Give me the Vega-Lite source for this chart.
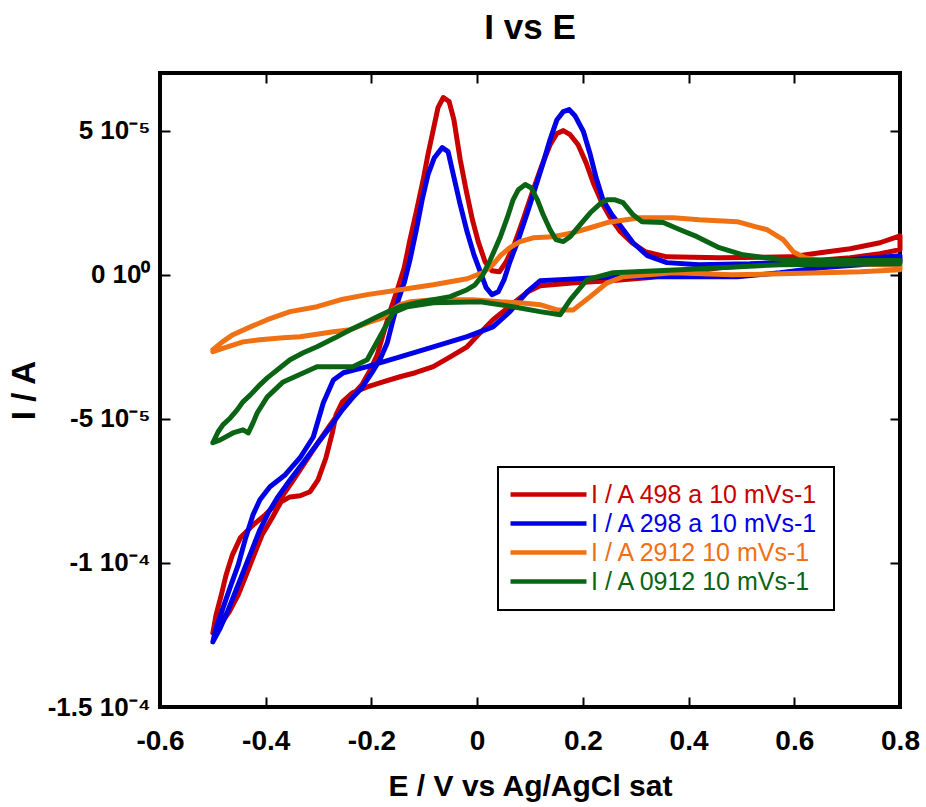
{
  "$schema": "https://vega.github.io/schema/vega-lite/v6.json",
  "width": 740,
  "height": 634,
  "autosize": {"type": "none"},
  "padding": {"left": 160, "top": 73, "right": 26, "bottom": 100},
  "background": "white",
  "title": {"text": "I vs E", "font": "Liberation Sans", "fontSize": 35, "fontWeight": "bold", "color": "black", "anchor": "middle", "offset": 26},
  "config": {"view": {"stroke": "black", "strokeWidth": 4}},
  "data": {"values": [
{"s":"I / A 498 a 10 mVs-1","o":1,"E":-0.5,"I":-12.43e-5},
{"s":"I / A 498 a 10 mVs-1","o":2,"E":-0.494,"I":-11.81e-5},
{"s":"I / A 498 a 10 mVs-1","o":3,"E":-0.484,"I":-11.11e-5},
{"s":"I / A 498 a 10 mVs-1","o":4,"E":-0.475,"I":-10.42e-5},
{"s":"I / A 498 a 10 mVs-1","o":5,"E":-0.463,"I":-9.72e-5},
{"s":"I / A 498 a 10 mVs-1","o":6,"E":-0.448,"I":-9.13e-5},
{"s":"I / A 498 a 10 mVs-1","o":7,"E":-0.426,"I":-8.72e-5},
{"s":"I / A 498 a 10 mVs-1","o":8,"E":-0.401,"I":-8.33e-5},
{"s":"I / A 498 a 10 mVs-1","o":9,"E":-0.376,"I":-7.88e-5},
{"s":"I / A 498 a 10 mVs-1","o":10,"E":-0.350,"I":-7.19e-5},
{"s":"I / A 498 a 10 mVs-1","o":11,"E":-0.325,"I":-6.49e-5},
{"s":"I / A 498 a 10 mVs-1","o":12,"E":-0.301,"I":-5.83e-5},
{"s":"I / A 498 a 10 mVs-1","o":13,"E":-0.278,"I":-5.21e-5},
{"s":"I / A 498 a 10 mVs-1","o":14,"E":-0.255,"I":-4.62e-5},
{"s":"I / A 498 a 10 mVs-1","o":15,"E":-0.236,"I":-4.17e-5},
{"s":"I / A 498 a 10 mVs-1","o":16,"E":-0.218,"I":-3.82e-5},
{"s":"I / A 498 a 10 mVs-1","o":17,"E":-0.202,"I":-3.30e-5},
{"s":"I / A 498 a 10 mVs-1","o":18,"E":-0.189,"I":-2.78e-5},
{"s":"I / A 498 a 10 mVs-1","o":19,"E":-0.178,"I":-2.08e-5},
{"s":"I / A 498 a 10 mVs-1","o":20,"E":-0.165,"I":-1.28e-5},
{"s":"I / A 498 a 10 mVs-1","o":21,"E":-0.151,"I":-0.52e-5},
{"s":"I / A 498 a 10 mVs-1","o":22,"E":-0.138,"I":0.24e-5},
{"s":"I / A 498 a 10 mVs-1","o":23,"E":-0.127,"I":1.22e-5},
{"s":"I / A 498 a 10 mVs-1","o":24,"E":-0.115,"I":2.19e-5},
{"s":"I / A 498 a 10 mVs-1","o":25,"E":-0.102,"I":3.30e-5},
{"s":"I / A 498 a 10 mVs-1","o":26,"E":-0.093,"I":4.17e-5},
{"s":"I / A 498 a 10 mVs-1","o":27,"E":-0.083,"I":5.03e-5},
{"s":"I / A 498 a 10 mVs-1","o":28,"E":-0.074,"I":5.80e-5},
{"s":"I / A 498 a 10 mVs-1","o":29,"E":-0.064,"I":6.15e-5},
{"s":"I / A 498 a 10 mVs-1","o":30,"E":-0.053,"I":6.01e-5},
{"s":"I / A 498 a 10 mVs-1","o":31,"E":-0.044,"I":5.38e-5},
{"s":"I / A 498 a 10 mVs-1","o":32,"E":-0.032,"I":3.99e-5},
{"s":"I / A 498 a 10 mVs-1","o":33,"E":-0.021,"I":2.95e-5},
{"s":"I / A 498 a 10 mVs-1","o":34,"E":-0.009,"I":1.91e-5},
{"s":"I / A 498 a 10 mVs-1","o":35,"E":0.002,"I":1.15e-5},
{"s":"I / A 498 a 10 mVs-1","o":36,"E":0.015,"I":0.45e-5},
{"s":"I / A 498 a 10 mVs-1","o":37,"E":0.028,"I":0.14e-5},
{"s":"I / A 498 a 10 mVs-1","o":38,"E":0.042,"I":0.10e-5},
{"s":"I / A 498 a 10 mVs-1","o":39,"E":0.055,"I":0.45e-5},
{"s":"I / A 498 a 10 mVs-1","o":40,"E":0.070,"I":1.04e-5},
{"s":"I / A 498 a 10 mVs-1","o":41,"E":0.087,"I":1.91e-5},
{"s":"I / A 498 a 10 mVs-1","o":42,"E":0.106,"I":2.95e-5},
{"s":"I / A 498 a 10 mVs-1","o":43,"E":0.123,"I":3.82e-5},
{"s":"I / A 498 a 10 mVs-1","o":44,"E":0.138,"I":4.51e-5},
{"s":"I / A 498 a 10 mVs-1","o":45,"E":0.151,"I":4.90e-5},
{"s":"I / A 498 a 10 mVs-1","o":46,"E":0.163,"I":5.00e-5},
{"s":"I / A 498 a 10 mVs-1","o":47,"E":0.176,"I":4.86e-5},
{"s":"I / A 498 a 10 mVs-1","o":48,"E":0.191,"I":4.51e-5},
{"s":"I / A 498 a 10 mVs-1","o":49,"E":0.206,"I":3.89e-5},
{"s":"I / A 498 a 10 mVs-1","o":50,"E":0.221,"I":3.13e-5},
{"s":"I / A 498 a 10 mVs-1","o":51,"E":0.236,"I":2.50e-5},
{"s":"I / A 498 a 10 mVs-1","o":52,"E":0.252,"I":1.98e-5},
{"s":"I / A 498 a 10 mVs-1","o":53,"E":0.271,"I":1.49e-5},
{"s":"I / A 498 a 10 mVs-1","o":54,"E":0.293,"I":1.11e-5},
{"s":"I / A 498 a 10 mVs-1","o":55,"E":0.318,"I":0.80e-5},
{"s":"I / A 498 a 10 mVs-1","o":56,"E":0.359,"I":0.62e-5},
{"s":"I / A 498 a 10 mVs-1","o":57,"E":0.458,"I":0.59e-5},
{"s":"I / A 498 a 10 mVs-1","o":58,"E":0.592,"I":0.62e-5},
{"s":"I / A 498 a 10 mVs-1","o":59,"E":0.649,"I":0.76e-5},
{"s":"I / A 498 a 10 mVs-1","o":60,"E":0.706,"I":0.90e-5},
{"s":"I / A 498 a 10 mVs-1","o":61,"E":0.762,"I":1.11e-5},
{"s":"I / A 498 a 10 mVs-1","o":62,"E":0.800,"I":1.35e-5},
{"s":"I / A 498 a 10 mVs-1","o":63,"E":0.800,"I":0.87e-5},
{"s":"I / A 498 a 10 mVs-1","o":64,"E":0.762,"I":0.73e-5},
{"s":"I / A 498 a 10 mVs-1","o":65,"E":0.706,"I":0.59e-5},
{"s":"I / A 498 a 10 mVs-1","o":66,"E":0.611,"I":0.45e-5},
{"s":"I / A 498 a 10 mVs-1","o":67,"E":0.535,"I":0.35e-5},
{"s":"I / A 498 a 10 mVs-1","o":68,"E":0.458,"I":0.24e-5},
{"s":"I / A 498 a 10 mVs-1","o":69,"E":0.403,"I":0.10e-5},
{"s":"I / A 498 a 10 mVs-1","o":70,"E":0.327,"I":-0.10e-5},
{"s":"I / A 498 a 10 mVs-1","o":71,"E":0.252,"I":-0.21e-5},
{"s":"I / A 498 a 10 mVs-1","o":72,"E":0.185,"I":-0.28e-5},
{"s":"I / A 498 a 10 mVs-1","o":73,"E":0.119,"I":-0.38e-5},
{"s":"I / A 498 a 10 mVs-1","o":74,"E":0.096,"I":-0.59e-5},
{"s":"I / A 498 a 10 mVs-1","o":75,"E":0.072,"I":-0.94e-5},
{"s":"I / A 498 a 10 mVs-1","o":76,"E":0.053,"I":-1.22e-5},
{"s":"I / A 498 a 10 mVs-1","o":77,"E":0.030,"I":-1.56e-5},
{"s":"I / A 498 a 10 mVs-1","o":78,"E":0.006,"I":-2.01e-5},
{"s":"I / A 498 a 10 mVs-1","o":79,"E":-0.019,"I":-2.50e-5},
{"s":"I / A 498 a 10 mVs-1","o":80,"E":-0.051,"I":-2.85e-5},
{"s":"I / A 498 a 10 mVs-1","o":81,"E":-0.083,"I":-3.19e-5},
{"s":"I / A 498 a 10 mVs-1","o":82,"E":-0.117,"I":-3.40e-5},
{"s":"I / A 498 a 10 mVs-1","o":83,"E":-0.146,"I":-3.54e-5},
{"s":"I / A 498 a 10 mVs-1","o":84,"E":-0.178,"I":-3.72e-5},
{"s":"I / A 498 a 10 mVs-1","o":85,"E":-0.208,"I":-3.89e-5},
{"s":"I / A 498 a 10 mVs-1","o":86,"E":-0.236,"I":-4.10e-5},
{"s":"I / A 498 a 10 mVs-1","o":87,"E":-0.255,"I":-4.41e-5},
{"s":"I / A 498 a 10 mVs-1","o":88,"E":-0.267,"I":-4.86e-5},
{"s":"I / A 498 a 10 mVs-1","o":89,"E":-0.274,"I":-5.49e-5},
{"s":"I / A 498 a 10 mVs-1","o":90,"E":-0.286,"I":-6.35e-5},
{"s":"I / A 498 a 10 mVs-1","o":91,"E":-0.301,"I":-7.12e-5},
{"s":"I / A 498 a 10 mVs-1","o":92,"E":-0.316,"I":-7.53e-5},
{"s":"I / A 498 a 10 mVs-1","o":93,"E":-0.335,"I":-7.67e-5},
{"s":"I / A 498 a 10 mVs-1","o":94,"E":-0.354,"I":-7.71e-5},
{"s":"I / A 498 a 10 mVs-1","o":95,"E":-0.371,"I":-7.88e-5},
{"s":"I / A 498 a 10 mVs-1","o":96,"E":-0.388,"I":-8.44e-5},
{"s":"I / A 498 a 10 mVs-1","o":97,"E":-0.407,"I":-9.03e-5},
{"s":"I / A 498 a 10 mVs-1","o":98,"E":-0.422,"I":-9.72e-5},
{"s":"I / A 498 a 10 mVs-1","o":99,"E":-0.437,"I":-10.42e-5},
{"s":"I / A 498 a 10 mVs-1","o":100,"E":-0.452,"I":-11.11e-5},
{"s":"I / A 498 a 10 mVs-1","o":101,"E":-0.469,"I":-11.70e-5},
{"s":"I / A 498 a 10 mVs-1","o":102,"E":-0.486,"I":-12.15e-5},
{"s":"I / A 498 a 10 mVs-1","o":103,"E":-0.5,"I":-12.43e-5},
{"s":"I / A 298 a 10 mVs-1","o":1,"E":-0.5,"I":-12.74e-5},
{"s":"I / A 298 a 10 mVs-1","o":2,"E":-0.486,"I":-12.26e-5},
{"s":"I / A 298 a 10 mVs-1","o":3,"E":-0.471,"I":-11.63e-5},
{"s":"I / A 298 a 10 mVs-1","o":4,"E":-0.456,"I":-10.94e-5},
{"s":"I / A 298 a 10 mVs-1","o":5,"E":-0.441,"I":-10.24e-5},
{"s":"I / A 298 a 10 mVs-1","o":6,"E":-0.426,"I":-9.55e-5},
{"s":"I / A 298 a 10 mVs-1","o":7,"E":-0.411,"I":-8.85e-5},
{"s":"I / A 298 a 10 mVs-1","o":8,"E":-0.395,"I":-8.26e-5},
{"s":"I / A 298 a 10 mVs-1","o":9,"E":-0.378,"I":-7.74e-5},
{"s":"I / A 298 a 10 mVs-1","o":10,"E":-0.354,"I":-7.12e-5},
{"s":"I / A 298 a 10 mVs-1","o":11,"E":-0.325,"I":-6.42e-5},
{"s":"I / A 298 a 10 mVs-1","o":12,"E":-0.301,"I":-5.83e-5},
{"s":"I / A 298 a 10 mVs-1","o":13,"E":-0.278,"I":-5.28e-5},
{"s":"I / A 298 a 10 mVs-1","o":14,"E":-0.255,"I":-4.69e-5},
{"s":"I / A 298 a 10 mVs-1","o":15,"E":-0.236,"I":-4.27e-5},
{"s":"I / A 298 a 10 mVs-1","o":16,"E":-0.218,"I":-3.92e-5},
{"s":"I / A 298 a 10 mVs-1","o":17,"E":-0.199,"I":-3.40e-5},
{"s":"I / A 298 a 10 mVs-1","o":18,"E":-0.184,"I":-2.95e-5},
{"s":"I / A 298 a 10 mVs-1","o":19,"E":-0.170,"I":-2.36e-5},
{"s":"I / A 298 a 10 mVs-1","o":20,"E":-0.159,"I":-1.56e-5},
{"s":"I / A 298 a 10 mVs-1","o":21,"E":-0.149,"I":-0.87e-5},
{"s":"I / A 298 a 10 mVs-1","o":22,"E":-0.138,"I":-0.28e-5},
{"s":"I / A 298 a 10 mVs-1","o":23,"E":-0.127,"I":0.52e-5},
{"s":"I / A 298 a 10 mVs-1","o":24,"E":-0.115,"I":1.56e-5},
{"s":"I / A 298 a 10 mVs-1","o":25,"E":-0.104,"I":2.60e-5},
{"s":"I / A 298 a 10 mVs-1","o":26,"E":-0.093,"I":3.47e-5},
{"s":"I / A 298 a 10 mVs-1","o":27,"E":-0.081,"I":4.06e-5},
{"s":"I / A 298 a 10 mVs-1","o":28,"E":-0.066,"I":4.41e-5},
{"s":"I / A 298 a 10 mVs-1","o":29,"E":-0.055,"I":4.27e-5},
{"s":"I / A 298 a 10 mVs-1","o":30,"E":-0.045,"I":3.47e-5},
{"s":"I / A 298 a 10 mVs-1","o":31,"E":-0.032,"I":2.43e-5},
{"s":"I / A 298 a 10 mVs-1","o":32,"E":-0.019,"I":1.49e-5},
{"s":"I / A 298 a 10 mVs-1","o":33,"E":-0.006,"I":0.69e-5},
{"s":"I / A 298 a 10 mVs-1","o":34,"E":0.006,"I":0.10e-5},
{"s":"I / A 298 a 10 mVs-1","o":35,"E":0.017,"I":-0.45e-5},
{"s":"I / A 298 a 10 mVs-1","o":36,"E":0.028,"I":-0.69e-5},
{"s":"I / A 298 a 10 mVs-1","o":37,"E":0.040,"I":-0.59e-5},
{"s":"I / A 298 a 10 mVs-1","o":38,"E":0.051,"I":-0.17e-5},
{"s":"I / A 298 a 10 mVs-1","o":39,"E":0.062,"I":0.45e-5},
{"s":"I / A 298 a 10 mVs-1","o":40,"E":0.078,"I":1.22e-5},
{"s":"I / A 298 a 10 mVs-1","o":41,"E":0.095,"I":2.15e-5},
{"s":"I / A 298 a 10 mVs-1","o":42,"E":0.110,"I":3.02e-5},
{"s":"I / A 298 a 10 mVs-1","o":43,"E":0.125,"I":3.89e-5},
{"s":"I / A 298 a 10 mVs-1","o":44,"E":0.138,"I":4.69e-5},
{"s":"I / A 298 a 10 mVs-1","o":45,"E":0.151,"I":5.38e-5},
{"s":"I / A 298 a 10 mVs-1","o":46,"E":0.163,"I":5.66e-5},
{"s":"I / A 298 a 10 mVs-1","o":47,"E":0.174,"I":5.73e-5},
{"s":"I / A 298 a 10 mVs-1","o":48,"E":0.185,"I":5.52e-5},
{"s":"I / A 298 a 10 mVs-1","o":49,"E":0.201,"I":4.97e-5},
{"s":"I / A 298 a 10 mVs-1","o":50,"E":0.214,"I":4.17e-5},
{"s":"I / A 298 a 10 mVs-1","o":51,"E":0.225,"I":3.37e-5},
{"s":"I / A 298 a 10 mVs-1","o":52,"E":0.238,"I":2.60e-5},
{"s":"I / A 298 a 10 mVs-1","o":53,"E":0.255,"I":2.08e-5},
{"s":"I / A 298 a 10 mVs-1","o":54,"E":0.271,"I":1.70e-5},
{"s":"I / A 298 a 10 mVs-1","o":55,"E":0.295,"I":1.11e-5},
{"s":"I / A 298 a 10 mVs-1","o":56,"E":0.322,"I":0.66e-5},
{"s":"I / A 298 a 10 mVs-1","o":57,"E":0.359,"I":0.42e-5},
{"s":"I / A 298 a 10 mVs-1","o":58,"E":0.420,"I":0.35e-5},
{"s":"I / A 298 a 10 mVs-1","o":59,"E":0.516,"I":0.38e-5},
{"s":"I / A 298 a 10 mVs-1","o":60,"E":0.611,"I":0.45e-5},
{"s":"I / A 298 a 10 mVs-1","o":61,"E":0.706,"I":0.52e-5},
{"s":"I / A 298 a 10 mVs-1","o":62,"E":0.800,"I":0.66e-5},
{"s":"I / A 298 a 10 mVs-1","o":63,"E":0.800,"I":0.45e-5},
{"s":"I / A 298 a 10 mVs-1","o":64,"E":0.725,"I":0.35e-5},
{"s":"I / A 298 a 10 mVs-1","o":65,"E":0.649,"I":0.24e-5},
{"s":"I / A 298 a 10 mVs-1","o":66,"E":0.573,"I":0.07e-5},
{"s":"I / A 298 a 10 mVs-1","o":67,"E":0.492,"I":-0.07e-5},
{"s":"I / A 298 a 10 mVs-1","o":68,"E":0.420,"I":-0.07e-5},
{"s":"I / A 298 a 10 mVs-1","o":69,"E":0.327,"I":-0.07e-5},
{"s":"I / A 298 a 10 mVs-1","o":70,"E":0.233,"I":-0.10e-5},
{"s":"I / A 298 a 10 mVs-1","o":71,"E":0.157,"I":-0.17e-5},
{"s":"I / A 298 a 10 mVs-1","o":72,"E":0.119,"I":-0.21e-5},
{"s":"I / A 298 a 10 mVs-1","o":73,"E":0.095,"I":-0.59e-5},
{"s":"I / A 298 a 10 mVs-1","o":74,"E":0.062,"I":-1.28e-5},
{"s":"I / A 298 a 10 mVs-1","o":75,"E":0.030,"I":-1.81e-5},
{"s":"I / A 298 a 10 mVs-1","o":76,"E":-0.019,"I":-2.15e-5},
{"s":"I / A 298 a 10 mVs-1","o":77,"E":-0.083,"I":-2.50e-5},
{"s":"I / A 298 a 10 mVs-1","o":78,"E":-0.146,"I":-2.85e-5},
{"s":"I / A 298 a 10 mVs-1","o":79,"E":-0.208,"I":-3.19e-5},
{"s":"I / A 298 a 10 mVs-1","o":80,"E":-0.253,"I":-3.40e-5},
{"s":"I / A 298 a 10 mVs-1","o":81,"E":-0.272,"I":-3.65e-5},
{"s":"I / A 298 a 10 mVs-1","o":82,"E":-0.291,"I":-4.44e-5},
{"s":"I / A 298 a 10 mVs-1","o":83,"E":-0.310,"I":-5.63e-5},
{"s":"I / A 298 a 10 mVs-1","o":84,"E":-0.335,"I":-6.35e-5},
{"s":"I / A 298 a 10 mVs-1","o":85,"E":-0.363,"I":-6.94e-5},
{"s":"I / A 298 a 10 mVs-1","o":86,"E":-0.392,"I":-7.36e-5},
{"s":"I / A 298 a 10 mVs-1","o":87,"E":-0.411,"I":-7.81e-5},
{"s":"I / A 298 a 10 mVs-1","o":88,"E":-0.424,"I":-8.33e-5},
{"s":"I / A 298 a 10 mVs-1","o":89,"E":-0.439,"I":-9.20e-5},
{"s":"I / A 298 a 10 mVs-1","o":90,"E":-0.452,"I":-10.07e-5},
{"s":"I / A 298 a 10 mVs-1","o":91,"E":-0.467,"I":-10.83e-5},
{"s":"I / A 298 a 10 mVs-1","o":92,"E":-0.482,"I":-11.63e-5},
{"s":"I / A 298 a 10 mVs-1","o":93,"E":-0.494,"I":-12.26e-5},
{"s":"I / A 298 a 10 mVs-1","o":94,"E":-0.5,"I":-12.74e-5},
{"s":"I / A 2912 10 mVs-1","o":1,"E":-0.5,"I":-2.60e-5},
{"s":"I / A 2912 10 mVs-1","o":2,"E":-0.482,"I":-2.33e-5},
{"s":"I / A 2912 10 mVs-1","o":3,"E":-0.462,"I":-2.08e-5},
{"s":"I / A 2912 10 mVs-1","o":4,"E":-0.429,"I":-1.81e-5},
{"s":"I / A 2912 10 mVs-1","o":5,"E":-0.397,"I":-1.56e-5},
{"s":"I / A 2912 10 mVs-1","o":6,"E":-0.354,"I":-1.28e-5},
{"s":"I / A 2912 10 mVs-1","o":7,"E":-0.303,"I":-1.11e-5},
{"s":"I / A 2912 10 mVs-1","o":8,"E":-0.259,"I":-0.87e-5},
{"s":"I / A 2912 10 mVs-1","o":9,"E":-0.208,"I":-0.69e-5},
{"s":"I / A 2912 10 mVs-1","o":10,"E":-0.146,"I":-0.52e-5},
{"s":"I / A 2912 10 mVs-1","o":11,"E":-0.083,"I":-0.35e-5},
{"s":"I / A 2912 10 mVs-1","o":12,"E":-0.019,"I":-0.14e-5},
{"s":"I / A 2912 10 mVs-1","o":13,"E":0.011,"I":0.07e-5},
{"s":"I / A 2912 10 mVs-1","o":14,"E":0.030,"I":0.35e-5},
{"s":"I / A 2912 10 mVs-1","o":15,"E":0.044,"I":0.66e-5},
{"s":"I / A 2912 10 mVs-1","o":16,"E":0.062,"I":0.94e-5},
{"s":"I / A 2912 10 mVs-1","o":17,"E":0.081,"I":1.15e-5},
{"s":"I / A 2912 10 mVs-1","o":18,"E":0.106,"I":1.28e-5},
{"s":"I / A 2912 10 mVs-1","o":19,"E":0.144,"I":1.32e-5},
{"s":"I / A 2912 10 mVs-1","o":20,"E":0.182,"I":1.46e-5},
{"s":"I / A 2912 10 mVs-1","o":21,"E":0.214,"I":1.63e-5},
{"s":"I / A 2912 10 mVs-1","o":22,"E":0.246,"I":1.81e-5},
{"s":"I / A 2912 10 mVs-1","o":23,"E":0.308,"I":1.98e-5},
{"s":"I / A 2912 10 mVs-1","o":24,"E":0.371,"I":1.98e-5},
{"s":"I / A 2912 10 mVs-1","o":25,"E":0.420,"I":1.91e-5},
{"s":"I / A 2912 10 mVs-1","o":26,"E":0.492,"I":1.84e-5},
{"s":"I / A 2912 10 mVs-1","o":27,"E":0.526,"I":1.67e-5},
{"s":"I / A 2912 10 mVs-1","o":28,"E":0.549,"I":1.56e-5},
{"s":"I / A 2912 10 mVs-1","o":29,"E":0.579,"I":1.22e-5},
{"s":"I / A 2912 10 mVs-1","o":30,"E":0.598,"I":0.80e-5},
{"s":"I / A 2912 10 mVs-1","o":31,"E":0.620,"I":0.59e-5},
{"s":"I / A 2912 10 mVs-1","o":32,"E":0.668,"I":0.45e-5},
{"s":"I / A 2912 10 mVs-1","o":33,"E":0.725,"I":0.38e-5},
{"s":"I / A 2912 10 mVs-1","o":34,"E":0.800,"I":0.31e-5},
{"s":"I / A 2912 10 mVs-1","o":35,"E":0.800,"I":0.17e-5},
{"s":"I / A 2912 10 mVs-1","o":36,"E":0.725,"I":0.10e-5},
{"s":"I / A 2912 10 mVs-1","o":37,"E":0.655,"I":0.07e-5},
{"s":"I / A 2912 10 mVs-1","o":38,"E":0.573,"I":0.03e-5},
{"s":"I / A 2912 10 mVs-1","o":39,"E":0.482,"I":0},
{"s":"I / A 2912 10 mVs-1","o":40,"E":0.371,"I":0.07e-5},
{"s":"I / A 2912 10 mVs-1","o":41,"E":0.276,"I":-0.07e-5},
{"s":"I / A 2912 10 mVs-1","o":42,"E":0.246,"I":-0.28e-5},
{"s":"I / A 2912 10 mVs-1","o":43,"E":0.214,"I":-0.76e-5},
{"s":"I / A 2912 10 mVs-1","o":44,"E":0.182,"I":-1.22e-5},
{"s":"I / A 2912 10 mVs-1","o":45,"E":0.151,"I":-1.22e-5},
{"s":"I / A 2912 10 mVs-1","o":46,"E":0.119,"I":-1.04e-5},
{"s":"I / A 2912 10 mVs-1","o":47,"E":0.081,"I":-0.97e-5},
{"s":"I / A 2912 10 mVs-1","o":48,"E":0.044,"I":-0.94e-5},
{"s":"I / A 2912 10 mVs-1","o":49,"E":-0.008,"I":-0.87e-5},
{"s":"I / A 2912 10 mVs-1","o":50,"E":-0.083,"I":-0.87e-5},
{"s":"I / A 2912 10 mVs-1","o":51,"E":-0.127,"I":-0.94e-5},
{"s":"I / A 2912 10 mVs-1","o":52,"E":-0.146,"I":-1.04e-5},
{"s":"I / A 2912 10 mVs-1","o":53,"E":-0.165,"I":-1.28e-5},
{"s":"I / A 2912 10 mVs-1","o":54,"E":-0.178,"I":-1.49e-5},
{"s":"I / A 2912 10 mVs-1","o":55,"E":-0.208,"I":-1.67e-5},
{"s":"I / A 2912 10 mVs-1","o":56,"E":-0.240,"I":-1.91e-5},
{"s":"I / A 2912 10 mVs-1","o":57,"E":-0.272,"I":-1.98e-5},
{"s":"I / A 2912 10 mVs-1","o":58,"E":-0.335,"I":-2.15e-5},
{"s":"I / A 2912 10 mVs-1","o":59,"E":-0.367,"I":-2.19e-5},
{"s":"I / A 2912 10 mVs-1","o":60,"E":-0.411,"I":-2.26e-5},
{"s":"I / A 2912 10 mVs-1","o":61,"E":-0.443,"I":-2.33e-5},
{"s":"I / A 2912 10 mVs-1","o":62,"E":-0.477,"I":-2.53e-5},
{"s":"I / A 2912 10 mVs-1","o":63,"E":-0.5,"I":-2.67e-5},
{"s":"I / A 0912 10 mVs-1","o":1,"E":-0.5,"I":-5.83e-5},
{"s":"I / A 0912 10 mVs-1","o":2,"E":-0.490,"I":-5.45e-5},
{"s":"I / A 0912 10 mVs-1","o":3,"E":-0.481,"I":-5.21e-5},
{"s":"I / A 0912 10 mVs-1","o":4,"E":-0.467,"I":-4.97e-5},
{"s":"I / A 0912 10 mVs-1","o":5,"E":-0.454,"I":-4.69e-5},
{"s":"I / A 0912 10 mVs-1","o":6,"E":-0.443,"I":-4.41e-5},
{"s":"I / A 0912 10 mVs-1","o":7,"E":-0.429,"I":-4.17e-5},
{"s":"I / A 0912 10 mVs-1","o":8,"E":-0.411,"I":-3.82e-5},
{"s":"I / A 0912 10 mVs-1","o":9,"E":-0.397,"I":-3.58e-5},
{"s":"I / A 0912 10 mVs-1","o":10,"E":-0.373,"I":-3.23e-5},
{"s":"I / A 0912 10 mVs-1","o":11,"E":-0.354,"I":-2.95e-5},
{"s":"I / A 0912 10 mVs-1","o":12,"E":-0.329,"I":-2.71e-5},
{"s":"I / A 0912 10 mVs-1","o":13,"E":-0.303,"I":-2.50e-5},
{"s":"I / A 0912 10 mVs-1","o":14,"E":-0.269,"I":-2.19e-5},
{"s":"I / A 0912 10 mVs-1","o":15,"E":-0.240,"I":-1.91e-5},
{"s":"I / A 0912 10 mVs-1","o":16,"E":-0.212,"I":-1.67e-5},
{"s":"I / A 0912 10 mVs-1","o":17,"E":-0.189,"I":-1.46e-5},
{"s":"I / A 0912 10 mVs-1","o":18,"E":-0.165,"I":-1.25e-5},
{"s":"I / A 0912 10 mVs-1","o":19,"E":-0.146,"I":-1.11e-5},
{"s":"I / A 0912 10 mVs-1","o":20,"E":-0.114,"I":-0.97e-5},
{"s":"I / A 0912 10 mVs-1","o":21,"E":-0.083,"I":-0.87e-5},
{"s":"I / A 0912 10 mVs-1","o":22,"E":-0.051,"I":-0.76e-5},
{"s":"I / A 0912 10 mVs-1","o":23,"E":-0.019,"I":-0.52e-5},
{"s":"I / A 0912 10 mVs-1","o":24,"E":-0.004,"I":-0.35e-5},
{"s":"I / A 0912 10 mVs-1","o":25,"E":0.011,"I":0},
{"s":"I / A 0912 10 mVs-1","o":26,"E":0.025,"I":0.52e-5},
{"s":"I / A 0912 10 mVs-1","o":27,"E":0.044,"I":1.32e-5},
{"s":"I / A 0912 10 mVs-1","o":28,"E":0.057,"I":1.98e-5},
{"s":"I / A 0912 10 mVs-1","o":29,"E":0.068,"I":2.60e-5},
{"s":"I / A 0912 10 mVs-1","o":30,"E":0.078,"I":2.95e-5},
{"s":"I / A 0912 10 mVs-1","o":31,"E":0.091,"I":3.13e-5},
{"s":"I / A 0912 10 mVs-1","o":32,"E":0.102,"I":3.02e-5},
{"s":"I / A 0912 10 mVs-1","o":33,"E":0.114,"I":2.60e-5},
{"s":"I / A 0912 10 mVs-1","o":34,"E":0.125,"I":2.08e-5},
{"s":"I / A 0912 10 mVs-1","o":35,"E":0.138,"I":1.56e-5},
{"s":"I / A 0912 10 mVs-1","o":36,"E":0.149,"I":1.22e-5},
{"s":"I / A 0912 10 mVs-1","o":37,"E":0.163,"I":1.15e-5},
{"s":"I / A 0912 10 mVs-1","o":38,"E":0.176,"I":1.32e-5},
{"s":"I / A 0912 10 mVs-1","o":39,"E":0.195,"I":1.74e-5},
{"s":"I / A 0912 10 mVs-1","o":40,"E":0.214,"I":2.15e-5},
{"s":"I / A 0912 10 mVs-1","o":41,"E":0.233,"I":2.47e-5},
{"s":"I / A 0912 10 mVs-1","o":42,"E":0.246,"I":2.60e-5},
{"s":"I / A 0912 10 mVs-1","o":43,"E":0.261,"I":2.60e-5},
{"s":"I / A 0912 10 mVs-1","o":44,"E":0.276,"I":2.50e-5},
{"s":"I / A 0912 10 mVs-1","o":45,"E":0.295,"I":2.08e-5},
{"s":"I / A 0912 10 mVs-1","o":46,"E":0.312,"I":1.84e-5},
{"s":"I / A 0912 10 mVs-1","o":47,"E":0.352,"I":1.81e-5},
{"s":"I / A 0912 10 mVs-1","o":48,"E":0.384,"I":1.56e-5},
{"s":"I / A 0912 10 mVs-1","o":49,"E":0.416,"I":1.32e-5},
{"s":"I / A 0912 10 mVs-1","o":50,"E":0.458,"I":0.94e-5},
{"s":"I / A 0912 10 mVs-1","o":51,"E":0.503,"I":0.69e-5},
{"s":"I / A 0912 10 mVs-1","o":52,"E":0.579,"I":0.52e-5},
{"s":"I / A 0912 10 mVs-1","o":53,"E":0.687,"I":0.49e-5},
{"s":"I / A 0912 10 mVs-1","o":54,"E":0.800,"I":0.49e-5},
{"s":"I / A 0912 10 mVs-1","o":55,"E":0.800,"I":0.38e-5},
{"s":"I / A 0912 10 mVs-1","o":56,"E":0.573,"I":0.35e-5},
{"s":"I / A 0912 10 mVs-1","o":57,"E":0.384,"I":0.17e-5},
{"s":"I / A 0912 10 mVs-1","o":58,"E":0.257,"I":0.07e-5},
{"s":"I / A 0912 10 mVs-1","o":59,"E":0.208,"I":-0.17e-5},
{"s":"I / A 0912 10 mVs-1","o":60,"E":0.176,"I":-0.87e-5},
{"s":"I / A 0912 10 mVs-1","o":61,"E":0.157,"I":-1.39e-5},
{"s":"I / A 0912 10 mVs-1","o":62,"E":0.119,"I":-1.28e-5},
{"s":"I / A 0912 10 mVs-1","o":63,"E":0.068,"I":-1.11e-5},
{"s":"I / A 0912 10 mVs-1","o":64,"E":0.006,"I":-0.94e-5},
{"s":"I / A 0912 10 mVs-1","o":65,"E":-0.083,"I":-0.97e-5},
{"s":"I / A 0912 10 mVs-1","o":66,"E":-0.132,"I":-1.11e-5},
{"s":"I / A 0912 10 mVs-1","o":67,"E":-0.159,"I":-1.32e-5},
{"s":"I / A 0912 10 mVs-1","o":68,"E":-0.184,"I":-2.15e-5},
{"s":"I / A 0912 10 mVs-1","o":69,"E":-0.208,"I":-2.95e-5},
{"s":"I / A 0912 10 mVs-1","o":70,"E":-0.235,"I":-3.19e-5},
{"s":"I / A 0912 10 mVs-1","o":71,"E":-0.303,"I":-3.19e-5},
{"s":"I / A 0912 10 mVs-1","o":72,"E":-0.367,"I":-3.72e-5},
{"s":"I / A 0912 10 mVs-1","o":73,"E":-0.397,"I":-4.24e-5},
{"s":"I / A 0912 10 mVs-1","o":74,"E":-0.416,"I":-4.79e-5},
{"s":"I / A 0912 10 mVs-1","o":75,"E":-0.424,"I":-5.14e-5},
{"s":"I / A 0912 10 mVs-1","o":76,"E":-0.433,"I":-5.49e-5},
{"s":"I / A 0912 10 mVs-1","o":77,"E":-0.443,"I":-5.38e-5},
{"s":"I / A 0912 10 mVs-1","o":78,"E":-0.462,"I":-5.49e-5},
{"s":"I / A 0912 10 mVs-1","o":79,"E":-0.486,"I":-5.73e-5},
{"s":"I / A 0912 10 mVs-1","o":80,"E":-0.5,"I":-5.83e-5}
  ]},
  "layer": [
    {
      "mark": {"type": "line", "strokeWidth": 5, "strokeJoin": "round", "strokeCap": "round"},
      "encoding": {
        "x": {"field": "E", "type": "quantitative",
          "scale": {"domain": [-0.6, 0.8], "nice": false, "zero": false},
          "axis": {"title": "E / V vs Ag/AgCl sat", "values": [-0.6, -0.4, -0.2, 0, 0.2, 0.4, 0.6, 0.8],
            "labelExpr": "datum.value == 0 ? '0' : (datum.value < 0 ? '-' : '') + format(abs(datum.value), '.1f')",
            "domain": false, "grid": false, "tickSize": -10, "tickWidth": 2, "tickColor": "black",
            "labelPadding": 30, "labelFont": "Liberation Sans Narrow, Liberation Sans", "labelFontSize": 28, "labelFontWeight": "bold", "labelColor": "black",
            "labelFlush": false, "labelOverlap": false,
            "titleFont": "Liberation Sans", "titleFontSize": 30, "titleFontWeight": "bold", "titleColor": "black", "titlePadding": 16}},
        "y": {"field": "I", "type": "quantitative",
          "scale": {"domain": [-0.00015, 0.00007], "nice": false, "zero": false},
          "axis": {"title": "I / A", "values": [-0.00015, -0.0001, -0.00005, 0, 0.00005],
            "labelExpr": "round(datum.value*1e5) == 5 ? '5 10⁻⁵' : round(datum.value*1e5) == 0 ? '0 10⁰' : round(datum.value*1e5) == -5 ? '-5 10⁻⁵' : round(datum.value*1e5) == -10 ? '-1 10⁻⁴' : '-1.5 10⁻⁴'",
            "domain": false, "grid": false, "tickSize": -10, "tickWidth": 2, "tickColor": "black",
            "labelPadding": 20, "labelFont": "Liberation Sans Narrow, Liberation Sans", "labelFontSize": 26, "labelFontWeight": "bold", "labelColor": "black",
            "labelFlush": false, "labelOverlap": false,
            "titleFont": "Liberation Sans", "titleFontSize": 33, "titleFontWeight": "bold", "titleColor": "black", "titlePadding": 6}},
        "color": {"field": "s", "type": "nominal",
          "scale": {"domain": ["I / A 498 a 10 mVs-1", "I / A 298 a 10 mVs-1", "I / A 2912 10 mVs-1", "I / A 0912 10 mVs-1"],
                    "range": ["#c80000", "#0000e6", "#f07014", "#0a6414"]},
          "legend": {"orient": "none", "legendX": 338, "legendY": 394, "title": null,
            "symbolType": "M-19,0H19", "symbolSize": 16, "symbolOffset": 23, "symbolStrokeWidth": 4.5,
            "labelOffset": 30, "labelFont": "Liberation Sans", "labelFontSize": 25, "labelLimit": 400,
            "rowPadding": 3, "padding": 15, "fillColor": "white", "strokeColor": "black",
            "encode": {
              "labels": {"update": {"fill": {"scale": "color", "field": "value"}}},
              "symbols": {"update": {"stroke": {"scale": "color", "field": "value"}, "fill": {"value": "transparent"}}},
              "legend": {"update": {"strokeWidth": {"value": 2}}}
            }}},
        "order": {"field": "o", "type": "quantitative"}
      }
    },
    {
      "mark": {"type": "line", "strokeOpacity": 0},
      "encoding": {
        "x": {"field": "E", "type": "quantitative",
          "axis": {"orient": "top", "title": null, "labels": false, "values": [-0.6, -0.4, -0.2, 0, 0.2, 0.4, 0.6, 0.8],
            "domain": false, "grid": false, "tickSize": -10, "tickWidth": 2, "tickColor": "black"}},
        "y": {"field": "I", "type": "quantitative",
          "axis": {"orient": "right", "title": null, "labels": false, "values": [-0.00015, -0.0001, -0.00005, 0, 0.00005],
            "domain": false, "grid": false, "tickSize": -10, "tickWidth": 2, "tickColor": "black"}},
        "detail": {"field": "s", "type": "nominal"},
        "order": {"field": "o", "type": "quantitative"}
      }
    }
  ],
  "resolve": {"axis": {"x": "independent", "y": "independent"}}
}
